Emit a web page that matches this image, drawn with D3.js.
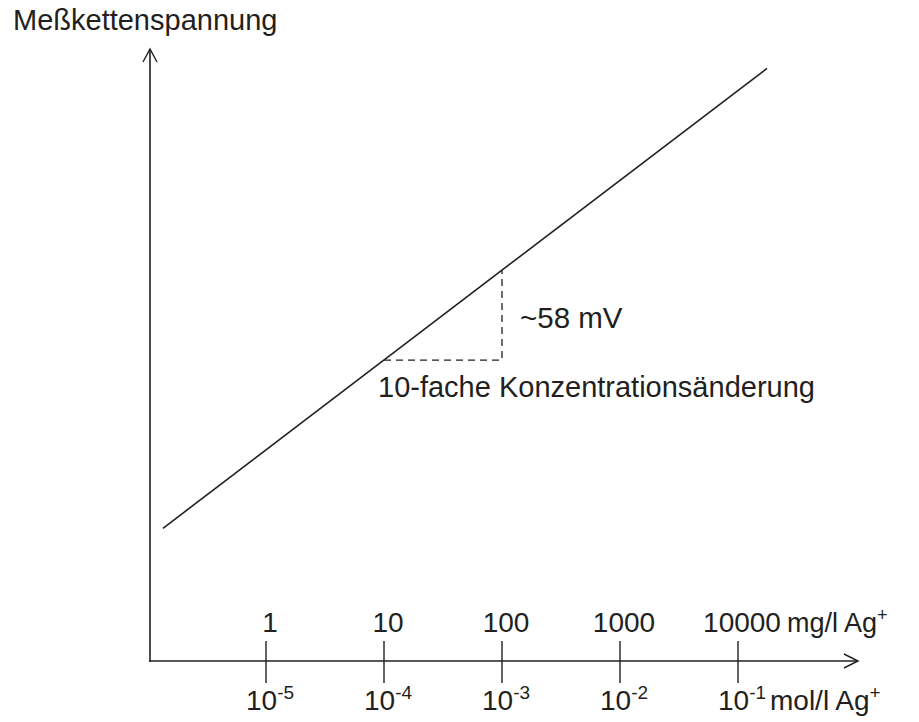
<!DOCTYPE html>
<html>
<head>
<meta charset="utf-8">
<script src="https://cdn.jsdelivr.net/npm/d3@7"></script>
<style>
  html, body { margin: 0; padding: 0; background: #fff; }
  svg { display: block; }
  text { font-family: "Liberation Sans", Arial, Helvetica, sans-serif; fill: #231f20; }
</style>
</head>
<body>
<svg id="chart" width="919" height="722"></svg>
<script>
// ---- data ----
const molTicks = [1e-5, 1e-4, 1e-3, 1e-2, 1e-1];
const molExponents = ["-5", "-4", "-3", "-2", "-1"];
const mgTickLabels = ["1", "10", "100", "1000", "10000"];
const lineConc = [1.34e-6, 0.176];   // mol/l
const lineMv = [86, 384];            // mV (relative)
const triangleConc = [1e-4, 1e-3];
const triangleMv = [195, 253];
const yTitle = "Meßkettenspannung";
const slopeLabel = "~58 mV";
const decadeLabel = "10-fache Konzentrationsänderung";
const mgUnit = "mg/l Ag";
const molUnit = "mol/l Ag";

// ---- scales ----
const x = d3.scaleLog().domain([1e-5, 1e-1]).range([266, 738]);
const y = d3.scaleLinear().domain([0, 396.6]).range([661, 49]);
const axisX0 = 150, axisXEnd = 858;
const ink = "#231f20";

const svg = d3.select("#chart");

// y axis
svg.append("line").attr("x1", axisX0).attr("x2", axisX0)
  .attr("y1", y(0) + 1).attr("y2", y.range()[1])
  .attr("stroke", ink).attr("stroke-width", 1.6);
svg.append("path")
  .attr("d", `M${axisX0 - 7},${y.range()[1] + 13} L${axisX0},${y.range()[1]} L${axisX0 + 7},${y.range()[1] + 13}`)
  .attr("fill", "none").attr("stroke", ink).attr("stroke-width", 1.4);

// x axis
svg.append("line").attr("x1", axisX0 - 0.8).attr("x2", axisXEnd)
  .attr("y1", y(0)).attr("y2", y(0))
  .attr("stroke", ink).attr("stroke-width", 1.6);
svg.append("path")
  .attr("d", `M${axisXEnd - 14},${y(0) - 7} L${axisXEnd},${y(0)} L${axisXEnd - 14},${y(0) + 7}`)
  .attr("fill", "none").attr("stroke", ink).attr("stroke-width", 1.4);

// ticks
svg.selectAll(".tick").data(molTicks).enter().append("line")
  .attr("x1", d => x(d)).attr("x2", d => x(d))
  .attr("y1", y(0) - 20).attr("y2", y(0) + 22)
  .attr("stroke", ink).attr("stroke-width", 1.4);

// upper labels (mg/l)
svg.selectAll(".mg").data(molTicks).enter().append("text")
  .attr("x", d => x(d) + 4).attr("y", 632)
  .attr("text-anchor", "middle").attr("font-size", 28)
  .text((d, i) => mgTickLabels[i]);
const mgT = svg.append("text").attr("x", 787).attr("y", 632).attr("font-size", 27);
mgT.append("tspan").text(mgUnit);
mgT.append("tspan").attr("font-size", 18).attr("dy", -11).text("+");

// lower labels (mol/l)
molTicks.forEach((d, i) => {
  const t = svg.append("text").attr("x", x(d) + 4).attr("y", 710)
    .attr("text-anchor", "middle").attr("font-size", 28);
  t.append("tspan").text("10");
  t.append("tspan").attr("font-size", 19).attr("dy", -11).text(molExponents[i]);
});
const molT = svg.append("text").attr("x", 770).attr("y", 710).attr("font-size", 28);
molT.append("tspan").text(molUnit);
molT.append("tspan").attr("font-size", 19).attr("dy", -11).text("+");

// main line
const line = d3.line().x(d => x(d[0])).y(d => y(d[1]));
svg.append("path")
  .datum(lineConc.map((c, i) => [c, lineMv[i]]))
  .attr("d", line)
  .attr("fill", "none").attr("stroke", ink).attr("stroke-width", 1.6);

// dashed triangle
svg.append("path")
  .datum([[triangleConc[0], triangleMv[0]], [triangleConc[1], triangleMv[0]], [triangleConc[1], triangleMv[1]]])
  .attr("d", line)
  .attr("fill", "none").attr("stroke", ink).attr("stroke-width", 1.3)
  .attr("stroke-dasharray", "7,5");

// annotations
svg.append("text").attr("x", 13).attr("y", 30).attr("font-size", 29).text(yTitle);
svg.append("text").attr("x", 520).attr("y", 328).attr("font-size", 29.5).text(slopeLabel);
svg.append("text").attr("x", 378).attr("y", 397).attr("font-size", 29).text(decadeLabel);
</script>
</body>
</html>
